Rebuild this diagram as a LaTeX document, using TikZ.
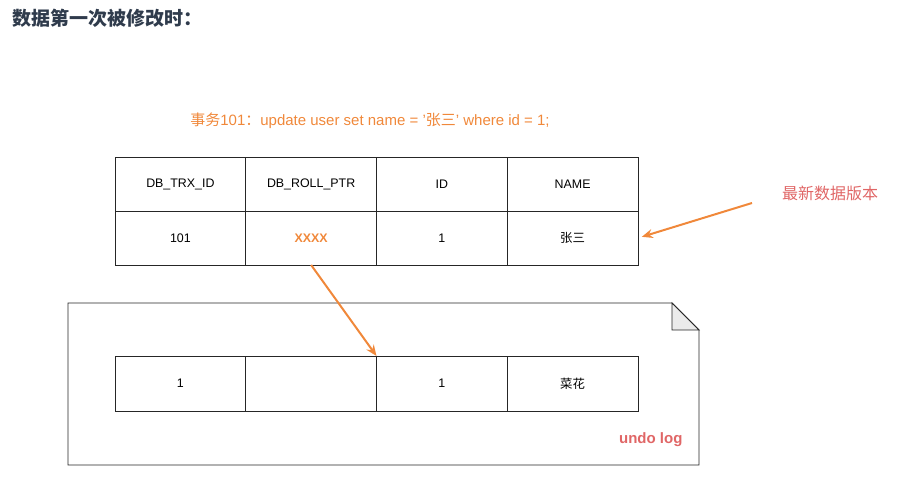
\documentclass[tikz,border=0pt]{standalone}
\usepackage{fontspec}
\setmainfont{Liberation Sans}
\newfontfamily\cjk{Noto Sans CJK SC}
\usetikzlibrary{positioning}
\usetikzlibrary{arrows.meta}
\definecolor{ptrorange}{HTML}{F0883A}
\definecolor{tagred}{HTML}{E06666}
\definecolor{titleink}{HTML}{2F3B4C}
\tikzset{
  cell/.style = {draw = black!85, line width = 0.9pt, minimum width = 130.75pt,
    minimum height = 54pt, inner sep = 0, outer sep = 0,
    font = \fontsize{12.4}{14}\selectfont},
  ptr/.style = {draw = ptrorange, line width = 2pt,
    -{Stealth[length = 11pt, width = 9pt]}}
}

\begin{document}
\begin{tikzpicture}[x = 1pt, y = -1pt]
  \useasboundingbox (0, 0) rectangle (901, 492);

  \node[anchor = west, text = titleink, font = \cjk\bfseries\fontsize{19}{22}\selectfont]
    (title) at (9, 18) {数据第一次被修改时：};

  \node[text = ptrorange, font = \fontsize{15}{18}\selectfont]
    (sql) at (370, 121) {{\cjk 事务}101{\cjk ：}update user set name = '{\cjk 张三}' where id = 1;};

  % current row
  \node[cell, anchor = north west] (h1) at (115, 157) {DB\_TRX\_ID};
  \node[cell, right = 0pt of h1] (h2) {DB\_ROLL\_PTR};
  \node[cell, right = 0pt of h2] (h3) {ID};
  \node[cell, right = 0pt of h3] (h4) {NAME};
  \node[cell, below = 0pt of h1] (r1) {101};
  \node[cell, below = 0pt of h2, text = ptrorange, font = \bfseries\fontsize{12.4}{14}\selectfont] (r2) {XXXX};
  \node[cell, below = 0pt of h3] (r3) {1};
  \node[cell, below = 0pt of h4, font = \cjk\fontsize{12.4}{14}\selectfont] (r4) {张三};

  \node[text = tagred, font = \cjk\fontsize{16}{18}\selectfont]
    (newest) at (830, 193) {最新数据版本};
  \coordinate (newtail) at (752, 203);

  % undo log page
  \draw[black!85, line width = 0.9pt]
    (68, 303) -- (672, 303) -- (699, 330) -- (699, 465) -- (68, 465) -- cycle;
  \draw[black!85, line width = 0.9pt, fill = black!8]
    (672, 303) -- (672, 330) -- (699, 330) -- cycle;

  \node[cell, anchor = north west, minimum height = 55pt] (u1) at (115, 356) {1};
  \node[cell, right = 0pt of u1, minimum height = 55pt] (u2) {};
  \node[cell, right = 0pt of u2, minimum height = 55pt] (u3) {1};
  \node[cell, right = 0pt of u3, minimum height = 55pt, font = \cjk\fontsize{12.4}{14}\selectfont] (u4) {菜花};

  \node[anchor = east, text = tagred, font = \bfseries\fontsize{15}{18}\selectfont]
    (undo) at (686, 440) {undo log};

  \draw[ptr] (r2.south) -- (u2.north east);
  \draw[ptr, shorten > = 4pt] (newtail) -- (r4.east);
\end{tikzpicture}
\end{document}
